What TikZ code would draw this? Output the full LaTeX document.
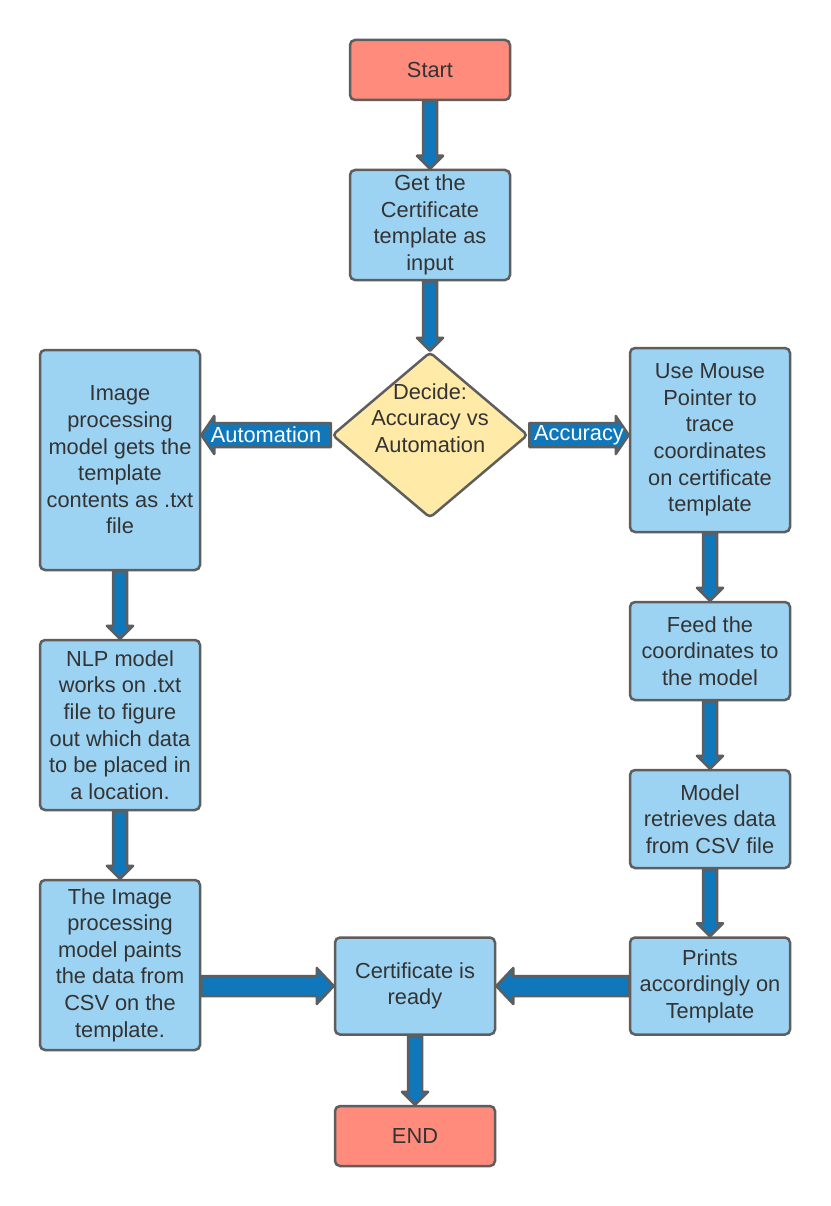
\documentclass[tikz,border=0pt]{standalone}
\usepackage{fontspec}
\setmainfont{Liberation Sans}
\usepackage{tikz}
\usetikzlibrary{positioning,calc,shapes.geometric}
\definecolor{StepBlue}{RGB}{157,211,242}
\definecolor{EdgeGray}{RGB}{94,94,94}
\definecolor{ArrowBlue}{RGB}{16,119,186}
\definecolor{EndRed}{RGB}{255,139,124}
\definecolor{DecideYellow}{RGB}{255,234,167}
\definecolor{TextGray}{RGB}{51,51,51}

\tikzset{
  stepbox/.style={draw=EdgeGray, fill=StepBlue, line width=2.5pt, rounded corners=5pt,
    text=TextGray, align=center, inner sep=0pt, minimum width=160pt,
    font=\fontsize{21.8}{26.6}\selectfont},
  endbox/.style={stepbox, fill=EndRed, minimum height=60pt},
  decidebox/.style={diamond, draw=EdgeGray, fill=DecideYellow, line width=2.5pt,
    rounded corners=4pt, inner sep=0pt, minimum width=196pt, minimum height=166pt},
  decidetext/.style={text=TextGray, align=center, font=\fontsize{21.8}{26.6}\selectfont},
  arrowbody/.style={draw=EdgeGray, fill=ArrowBlue, line width=2.5pt, line join=round},
  arrowlabel/.style={text=white, font=\fontsize{21.8}{26.6}\selectfont, inner sep=0pt}
}

% [label]{from}{to}{half shaft}{half head}{head length}
\newcommand{\flowarrow}[6][]{%
  \coordinate (hb) at ($(#3)!#6!(#2)$);
  \filldraw[arrowbody] ($(#2)!#4!90:(#3)$) -- ($(hb)!#4!90:(#3)$) -- ($(hb)!#5!90:(#3)$)
    -- (#3) -- ($(hb)!#5!-90:(#3)$) -- ($(hb)!#4!-90:(#3)$) -- ($(#2)!#4!-90:(#3)$) -- cycle;
  \ifx\relax#1\relax\else
    \node[arrowlabel] at ($(#2)!0.5!(#3)$) {#1};
  \fi
}

\begin{document}
\begin{tikzpicture}[x=1pt,y=-1pt]
  \useasboundingbox[fill=white] (0,0) rectangle (830,1206);

  % middle column
  \node[endbox] (start) at (430,70) {Start};
  \node[stepbox, minimum height=110pt] (get) at (430,225) {Get the\\Certificate\\template as\\input};
  \node[decidebox] (dec) at (430,435) {};
  \node[decidetext] (dectext) at ([yshift=17pt]dec.center) {Decide:\\Accuracy vs\\Automation};
  \node[stepbox, minimum height=97pt] (ready) at (415,986) {Certificate is\\ready};
  \node[endbox] (finish) at (415,1136) {END};

  % automation branch
  \node[stepbox, minimum height=220pt] (img) at (120,460) {Image\\processing\\model gets the\\template\\contents as .txt\\file};
  \node[stepbox, minimum height=170pt] (nlp) at (120,725) {NLP model\\works on .txt\\file to figure\\out which data\\to be placed in\\a location.};
  \node[stepbox, minimum height=170pt] (paint) at (120,965) {The Image\\processing\\model paints\\the data from\\CSV on the\\template.};

  % accuracy branch
  \node[stepbox, minimum height=184pt] (mouse) at (710,440) {Use Mouse\\Pointer to\\trace\\coordinates\\on certificate\\template};
  \node[stepbox, minimum height=98pt] (feed) at (710,651) {Feed the\\coordinates to\\the model};
  \node[stepbox, minimum height=98pt] (retrieve) at (710,819) {Model\\retrieves data\\from CSV file};
  \node[stepbox, minimum height=97pt] (prints) at (710,986) {Prints\\accordingly on\\Template};

  % arrows
  \foreach \a/\b in {start/get, get/dec, img/nlp, nlp/paint, mouse/feed, feed/retrieve, retrieve/prints, ready/finish}
    \flowarrow{\a.south}{\b.north}{7pt}{13pt}{13pt};
  \flowarrow[Automation]{dec.west}{img.east |- dec.west}{12pt}{19pt}{13pt}
  \flowarrow[Accuracy]{dec.east}{mouse.west |- dec.east}{12pt}{19pt}{13pt}
  \flowarrow{paint.east |- ready.west}{ready.west}{10pt}{18pt}{17pt}
  \flowarrow{prints.west}{ready.east}{10pt}{18pt}{17pt}
\end{tikzpicture}
\end{document}
